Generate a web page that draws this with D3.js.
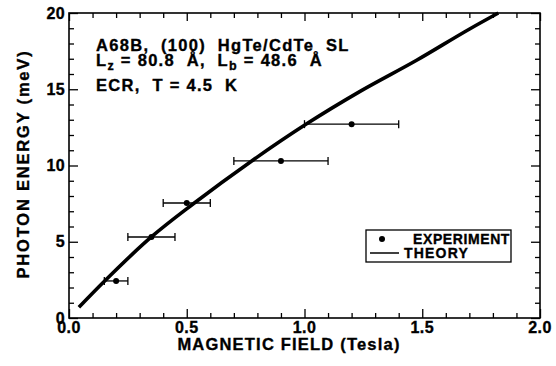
<!DOCTYPE html>
<html>
<head>
<meta charset="utf-8">
<script src="https://cdn.jsdelivr.net/npm/d3@7"></script>
<style>
  html, body { margin: 0; padding: 0; background: #fff; }
  svg { display: block; }
  text { font-family: "Liberation Sans", Arial, Helvetica, sans-serif; font-weight: bold; fill: #000; stroke: #000; stroke-width: 0.35px; }
  .ann text { white-space: pre; }
</style>
</head>
<body>
<svg id="chart" width="556" height="366"></svg>
<script>
// Experimental cyclotron resonance points: field (T), energy (meV), field uncertainty (T)
const expField  = [0.20, 0.35, 0.50, 0.90, 1.20];
const expEnergy = [2.43, 5.31, 7.54, 10.30, 12.71];
const expErrLo  = [0.15, 0.25, 0.40, 0.70, 1.00];
const expErrHi  = [0.25, 0.45, 0.60, 1.10, 1.40];

// Calculated transition energy (theory curve)
const theoryField  = [0.042, 0.146, 0.351, 0.528, 0.776, 1.006, 1.236, 1.476, 1.703, 1.823];
const theoryEnergy = [0.70, 2.34, 5.33, 7.49, 10.30, 12.70, 14.86, 16.90, 18.97, 20.00];

const xTickLabels = ["0.0", "0.5", "1.0", "1.5", "2.0"];
const yTickLabels = ["0", "5", "10", "15", "20"];

const svg = d3.select("#chart");
const plotLeft = 69, plotRight = 540, plotTop = 13, plotBottom = 318;

const x = d3.scaleLinear().domain([0, 2]).range([plotLeft, plotRight]);
const y = d3.scaleLinear().domain([0, 20]).range([plotBottom, plotTop]);

const xMajor = xTickLabels.map(Number);
const yMajor = yTickLabels.map(Number);
const xMinor = d3.range(0, 2.0001, 0.1).filter(v => Math.abs(v * 2 - Math.round(v * 2)) > 1e-6);
const yMinor = d3.range(0, 20.0001, 1).filter(v => v % 5 !== 0);

// Inward-pointing ticks on all four sides
function tickAxis(axisFn, scale, values, size, transform) {
  svg.append("g")
    .attr("transform", transform)
    .call(axisFn(scale).tickValues(values).tickSize(size).tickFormat(""))
    .call(g => g.select(".domain").remove())
    .call(g => g.selectAll("line").attr("stroke", "#000").attr("stroke-width", 1.3));
}
tickAxis(d3.axisTop,    x, xMajor, 9, `translate(0,${plotBottom})`);
tickAxis(d3.axisTop,    x, xMinor, 5, `translate(0,${plotBottom})`);
tickAxis(d3.axisBottom, x, xMajor, 8, `translate(0,${plotTop})`);
tickAxis(d3.axisBottom, x, xMinor, 5, `translate(0,${plotTop})`);
tickAxis(d3.axisRight,  y, yMajor, 9, `translate(${plotLeft},0)`);
tickAxis(d3.axisRight,  y, yMinor, 5, `translate(${plotLeft},0)`);
tickAxis(d3.axisLeft,   y, yMajor, 9, `translate(${plotRight},0)`);
tickAxis(d3.axisLeft,   y, yMinor, 5, `translate(${plotRight},0)`);

// Frame
svg.append("rect")
  .attr("x", plotLeft).attr("y", plotTop)
  .attr("width", plotRight - plotLeft).attr("height", plotBottom - plotTop)
  .attr("fill", "none").attr("stroke", "#000").attr("stroke-width", 1.6);

// Tick labels
svg.append("g").selectAll("text").data(xTickLabels).join("text")
  .attr("x", d => x(+d)).attr("y", plotBottom + 15)
  .attr("text-anchor", "middle").attr("font-size", 16).attr("letter-spacing", 0.4)
  .text(d => d);
svg.append("g").selectAll("text").data(yTickLabels).join("text")
  .attr("x", plotLeft - 4).attr("y", d => y(+d) + 5.5)
  .attr("text-anchor", "end").attr("font-size", 16).attr("letter-spacing", 0.4)
  .text(d => d);

// Axis titles
svg.append("text")
  .attr("x", 289).attr("y", 350)
  .attr("text-anchor", "middle").attr("font-size", 16.5).attr("letter-spacing", 1.2)
  .text("MAGNETIC FIELD (Tesla)");
svg.append("text")
  .attr("transform", `translate(29,${164}) rotate(-90)`)
  .attr("text-anchor", "middle").attr("font-size", 16.5).attr("letter-spacing", 1.8)
  .text("PHOTON ENERGY (meV)");

// Sample annotation
const ann = svg.append("g").attr("class", "ann").attr("font-size", 16.5).attr("letter-spacing", 1.3);
ann.append("text").attr("x", 96).attr("y", 51).text("A68B,  (100)  HgTe/CdTe  SL");
const l2 = ann.append("text").attr("x", 96).attr("y", 66);
l2.append("tspan").text("L");
l2.append("tspan").attr("font-size", 12.5).attr("dy", 4).text("z");
l2.append("tspan").attr("dy", -4).text(" = 80.8  Å,  L");
l2.append("tspan").attr("font-size", 12.5).attr("dy", 4).text("b");
l2.append("tspan").attr("dy", -4).text(" = 48.6  Å");
ann.append("text").attr("x", 96).attr("y", 91).text("ECR,  T = 4.5  K");

// Theory curve
const line = d3.line()
  .x((d, i) => x(theoryField[i]))
  .y((d, i) => y(theoryEnergy[i]))
  .curve(d3.curveMonotoneX);
svg.append("path")
  .datum(theoryField)
  .attr("d", line)
  .attr("fill", "none").attr("stroke", "#000")
  .attr("stroke-width", 3.6).attr("stroke-linecap", "butt");

// Experimental points with horizontal error bars
const pts = expField.map((f, i) => ({ f, e: expEnergy[i], lo: expErrLo[i], hi: expErrHi[i] }));
const eb = svg.append("g").attr("stroke", "#000").attr("stroke-width", 1.3);
eb.selectAll("line.bar").data(pts).join("line").attr("class", "bar")
  .attr("x1", d => x(d.lo)).attr("x2", d => x(d.hi))
  .attr("y1", d => y(d.e)).attr("y2", d => y(d.e));
eb.selectAll("line.capL").data(pts).join("line").attr("class", "capL")
  .attr("x1", d => x(d.lo)).attr("x2", d => x(d.lo))
  .attr("y1", d => y(d.e) - 4).attr("y2", d => y(d.e) + 4);
eb.selectAll("line.capR").data(pts).join("line").attr("class", "capR")
  .attr("x1", d => x(d.hi)).attr("x2", d => x(d.hi))
  .attr("y1", d => y(d.e) - 4).attr("y2", d => y(d.e) + 4);
svg.append("g").selectAll("circle").data(pts).join("circle")
  .attr("cx", d => x(d.f)).attr("cy", d => y(d.e)).attr("r", 3).attr("fill", "#000");

// Legend
const lg = svg.append("g");
lg.append("rect").attr("x", 366).attr("y", 230).attr("width", 145).attr("height", 32)
  .attr("fill", "#fff").attr("stroke", "#000").attr("stroke-width", 1.3);
lg.append("circle").attr("cx", 382).attr("cy", 239).attr("r", 3).attr("fill", "#000");
lg.append("text").attr("x", 413).attr("y", 243.5).attr("font-size", 14).attr("letter-spacing", 0.6).text("EXPERIMENT");
lg.append("line").attr("x1", 370).attr("x2", 399).attr("y1", 253).attr("y2", 253)
  .attr("stroke", "#000").attr("stroke-width", 1.5);
lg.append("text").attr("x", 404).attr("y", 257.5).attr("font-size", 14).attr("letter-spacing", 1.2).text("THEORY");
</script>
</body>
</html>
